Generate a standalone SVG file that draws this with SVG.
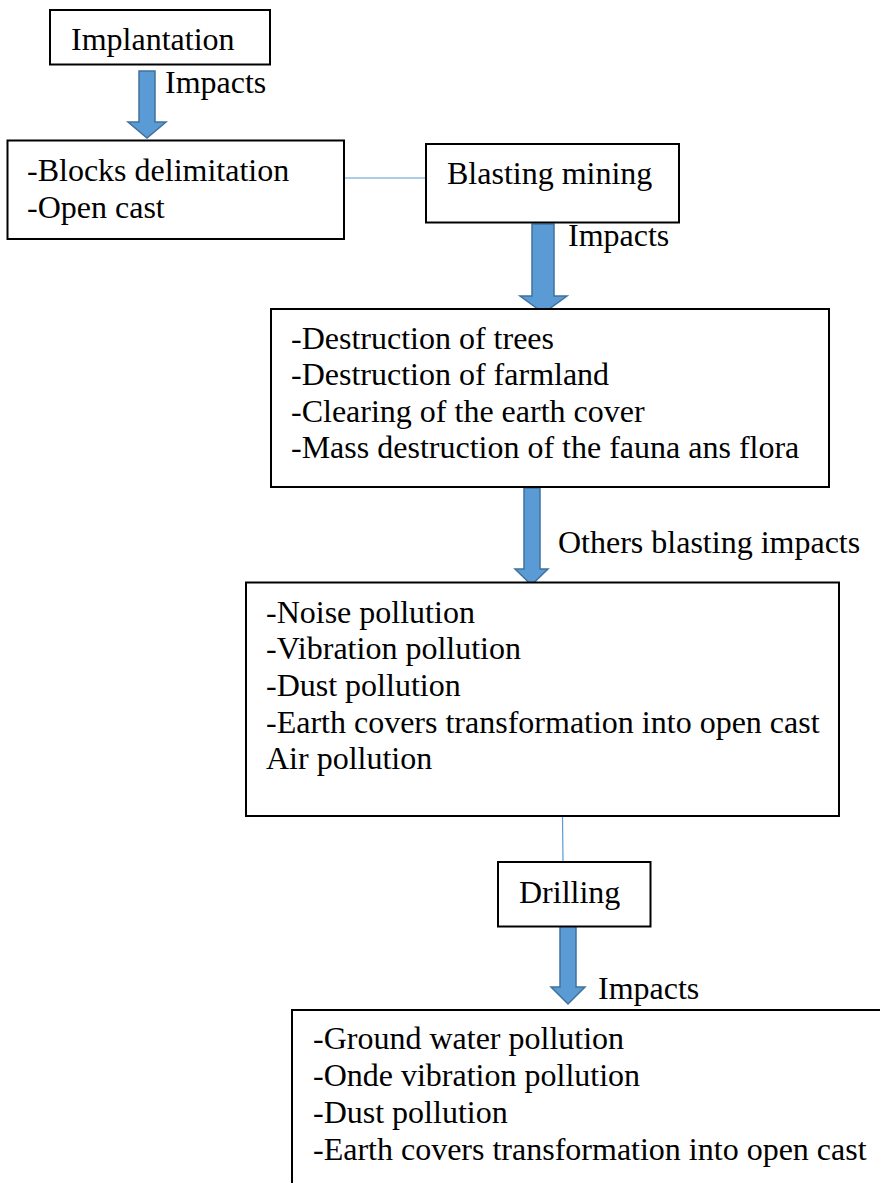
<svg xmlns="http://www.w3.org/2000/svg" width="880" height="1183" viewBox="0 0 880 1183">
<style>
.box{fill:#fff;stroke:#000;stroke-width:2}
.arr{fill:#5B9BD5;stroke:#41719C;stroke-width:1.5;stroke-linejoin:miter}
.ln{stroke:#5B9BD5;stroke-width:1.2;fill:none}
</style>
<rect width="880" height="1183" fill="#fff"/>
<g id="connectors">
<polygon class="arr" points="139,71 155,71 155,122 166,122 147,138 128,122 139,122"/>
<polygon class="arr" points="532,224 554,224 554,296 567,296 543.5,313 520,296 532,296"/>
<polygon class="arr" points="524,488 540,488 540,569 548,569 531.5,585 515,569 524,569"/>
<polygon class="arr" points="560,926 576,926 576,987 585,987 568,1004 551,987 560,987"/>
<line class="ln" x1="344" y1="178" x2="426" y2="178"/>
<line class="ln" x1="562.5" y1="816" x2="563" y2="862"/>
<text font-family="Liberation Serif, serif" font-size="32" x="165" y="93">Impacts</text>
<text font-family="Liberation Serif, serif" font-size="32" x="568" y="246">Impacts</text>
<text font-family="Liberation Serif, serif" font-size="32" x="558" y="553">Others blasting impacts</text>
<text font-family="Liberation Serif, serif" font-size="32" x="598" y="999">Impacts</text>
</g>
<g id="implantation">
<rect class="box" x="50" y="10" width="220" height="54.5"/>
<text font-family="Liberation Serif, serif" font-size="32" x="71" y="50">Implantation</text>
</g>
<g id="blocks">
<rect class="box" x="7.5" y="140.5" width="336.5" height="98.5"/>
<text font-family="Liberation Serif, serif" font-size="32" x="27" y="181">-Blocks delimitation</text>
<text font-family="Liberation Serif, serif" font-size="32" x="27" y="217.5">-Open cast</text>
</g>
<g id="blasting">
<rect class="box" x="426" y="144" width="253" height="78.5"/>
<text font-family="Liberation Serif, serif" font-size="32" x="447" y="184">Blasting mining</text>
</g>
<g id="destruction">
<rect class="box" x="271" y="309" width="558" height="178"/>
<text font-family="Liberation Serif, serif" font-size="32" x="291" y="348.5">-Destruction of trees</text>
<text font-family="Liberation Serif, serif" font-size="32" x="291" y="385">-Destruction of farmland</text>
<text font-family="Liberation Serif, serif" font-size="32" x="291" y="421.7">-Clearing of the earth cover</text>
<text font-family="Liberation Serif, serif" font-size="32" x="291" y="458.3">-Mass destruction of the fauna ans flora</text>
</g>
<g id="pollution">
<rect class="box" x="246" y="582.5" width="593" height="233.5"/>
<text font-family="Liberation Serif, serif" font-size="32" x="266" y="622.7">-Noise pollution</text>
<text font-family="Liberation Serif, serif" font-size="32" x="266" y="659.3">-Vibration pollution</text>
<text font-family="Liberation Serif, serif" font-size="32" x="266" y="696">-Dust pollution</text>
<text font-family="Liberation Serif, serif" font-size="32" x="266" y="732.5">-Earth covers transformation into open cast</text>
<text font-family="Liberation Serif, serif" font-size="32" x="266" y="769">Air pollution</text>
</g>
<g id="drilling">
<rect class="box" x="498" y="862" width="152.5" height="64.5"/>
<text font-family="Liberation Serif, serif" font-size="32" x="519" y="903">Drilling</text>
</g>
<g id="drilling-impacts">
<rect class="box" x="292" y="1010" width="600" height="200"/>
<text font-family="Liberation Serif, serif" font-size="32" x="313" y="1049">-Ground water pollution</text>
<text font-family="Liberation Serif, serif" font-size="32" x="313" y="1086">-Onde vibration pollution</text>
<text font-family="Liberation Serif, serif" font-size="32" x="313" y="1122.5">-Dust pollution</text>
<text font-family="Liberation Serif, serif" font-size="32" x="313" y="1159.5">-Earth covers transformation into open cast</text>
</g>
</svg>
